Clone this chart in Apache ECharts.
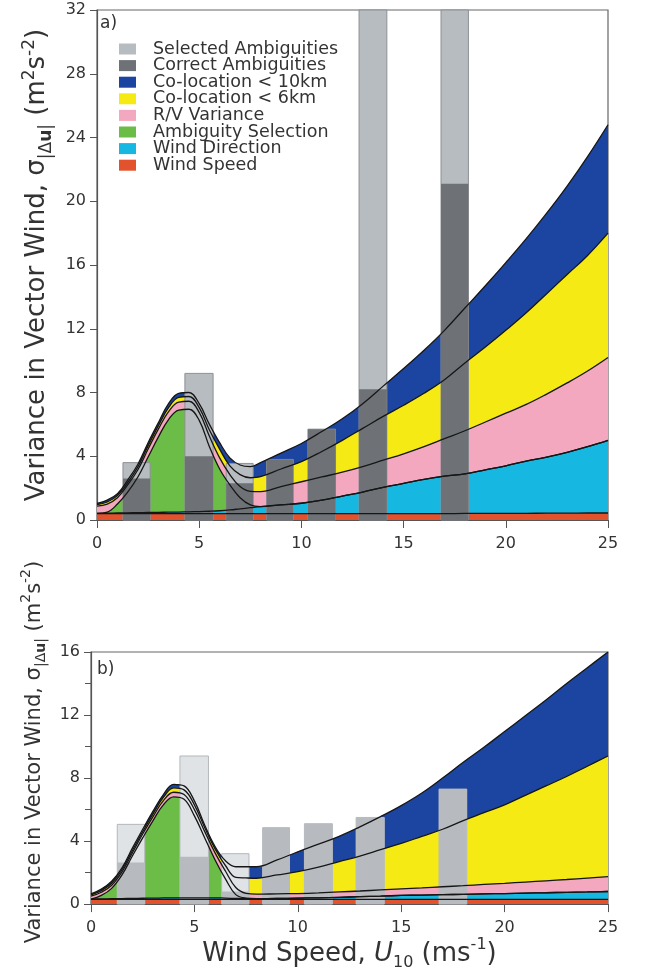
<!DOCTYPE html>
<html>
<head>
<meta charset="utf-8">
<script src="https://cdn.jsdelivr.net/npm/echarts@6/dist/echarts.min.js"></script>
<style>
  html, body { margin: 0; padding: 0; background: #fff; }
  #chart { width: 650px; height: 972px; }
</style>
</head>
<body>
<div id="chart"></div>
<script>
    // wind speed samples (m/s), shared by both panels
    var xs = [0, 0.5, 1, 1.5, 2, 2.5, 3, 3.5, 4, 4.5, 5, 5.5, 6, 6.5, 7, 7.5, 8,
              9, 10, 11, 12, 13, 14, 15, 16, 17, 18, 19, 20, 21, 22, 23, 24, 25];

    // panel a) cumulative tops of each variance term
    var windSpeedA = [0.4,0.4,0.4,0.4,0.4,0.4,0.4,0.4,0.4,0.4,0.4,0.4,0.4,0.4,0.4,0.4,0.4,
                      0.4,0.4,0.4,0.4,0.4,0.4,0.4,0.4,0.4,0.41,0.41,0.42,0.42,0.43,0.43,0.44,0.44];
    var windDirA   = [0.42,0.43,0.44,0.45,0.46,0.47,0.48,0.49,0.5,0.51,0.53,0.55,0.58,0.63,0.7,0.77,0.84,
                      0.95,1.05,1.25,1.5,1.75,2.05,2.3,2.55,2.75,2.9,3.15,3.4,3.7,3.95,4.25,4.6,5.0];
    var ambigA     = [0.42,0.5,1.0,1.75,2.7,3.95,5.2,6.3,6.9,6.95,6.25,4.6,3.2,2.2,1.4,0.95,0.84,
                      0.95,1.05,1.25,1.5,1.75,2.05,2.3,2.55,2.75,2.9,3.15,3.4,3.7,3.95,4.25,4.6,5.0];
    var rvA        = [0.87,1.0,1.4,2.2,3.15,4.45,5.7,6.8,7.4,7.45,6.75,5.25,3.9,2.85,2.1,1.8,1.78,
                      2.1,2.4,2.7,3.0,3.35,3.75,4.15,4.6,5.1,5.6,6.15,6.7,7.25,7.9,8.6,9.35,10.2];
    var coloc6A    = [0.97,1.13,1.53,2.35,3.33,4.65,5.9,7.05,7.7,7.75,7.05,5.65,4.45,3.4,2.85,2.65,2.72,
                      3.2,3.66,4.3,5.0,5.75,6.5,7.2,7.95,8.8,9.85,10.85,11.9,13.0,14.2,15.4,16.6,18.0];
    var coloc10A   = [1.05,1.25,1.65,2.5,3.5,4.85,6.1,7.3,7.95,8.0,7.3,6.0,4.85,3.9,3.45,3.35,3.6,
                      4.2,4.8,5.55,6.35,7.3,8.4,9.5,10.65,11.9,13.3,14.7,16.15,17.65,19.25,20.95,22.8,24.8];

    // panel b)
    var windSpeedB = [0.3,0.3,0.3,0.3,0.3,0.3,0.3,0.3,0.3,0.3,0.3,0.3,0.3,0.3,0.3,0.3,0.3,
                      0.3,0.3,0.3,0.3,0.3,0.3,0.3,0.3,0.3,0.3,0.3,0.3,0.3,0.3,0.3,0.3,0.3];
    var windDirB   = [0.32,0.33,0.34,0.35,0.36,0.37,0.38,0.39,0.4,0.4,0.4,0.4,0.4,0.38,0.36,0.35,0.35,
                      0.36,0.38,0.4,0.43,0.47,0.51,0.55,0.57,0.6,0.62,0.65,0.67,0.7,0.72,0.75,0.77,0.8];
    var ambigB     = [0.32,0.55,1.0,1.85,3.05,4.2,5.3,6.3,6.8,6.65,5.6,4.2,2.8,1.6,0.6,0.38,0.35,
                      0.36,0.38,0.4,0.43,0.47,0.51,0.55,0.57,0.6,0.62,0.65,0.67,0.7,0.72,0.75,0.77,0.8];
    var rvB        = [0.5,0.75,1.2,2.05,3.25,4.45,5.55,6.57,7.1,6.95,6.0,4.6,3.25,2.1,1.05,0.68,0.63,
                      0.65,0.67,0.71,0.77,0.83,0.9,0.97,1.03,1.1,1.17,1.25,1.32,1.4,1.48,1.56,1.65,1.74];
    var coloc6B    = [0.58,0.85,1.32,2.18,3.4,4.6,5.72,6.77,7.38,7.25,6.3,4.85,3.5,2.45,1.7,1.66,1.64,
                      1.85,2.06,2.35,2.7,3.05,3.45,3.85,4.3,4.75,5.3,5.8,6.3,6.9,7.5,8.1,8.75,9.4];
    var coloc10B   = [0.65,0.95,1.45,2.3,3.55,4.75,5.9,6.95,7.6,7.5,6.55,5.0,3.65,2.75,2.37,2.37,2.37,
                      2.8,3.32,3.8,4.3,4.9,5.55,6.25,7.05,8.0,9.0,9.95,10.95,11.95,12.95,14.0,15.0,16.0];

    // histogram bins (m/s) and heights
    var binLo = [1.27, 4.3, 6.32, 8.3, 10.32, 12.82, 16.83];
    var binHi = [2.6, 5.68, 7.64, 9.6, 11.67, 14.18, 18.17];
    var selectedA = [3.6, 9.2, 3.55, 3.8, 5.7, 60, 45];
    var correctA  = [2.6, 4.0, 2.3, 3.8, 5.7, 8.2, 21.1];
    var selectedB = [5.06, 9.4, 3.2, 4.85, 5.1, 5.5, 7.3];
    var correctB  = [2.64, 3.0, 0.8, 4.85, 5.1, 5.5, 7.3];

    var yTicksA = [0, 4, 8, 12, 16, 20, 24, 28, 32];
    var yTicksB = [0, 4, 8, 12, 16];
    var xTicks = [0, 5, 10, 15, 20, 25];

    var FONT = 'DejaVu Sans';
    var TXT = '#333';
    var C = {
        sel: '#b7bcc1', selB: '#dfe3e6', cor: '#6e7276', corB: '#b7bbbf',
        blue: '#1b45a0', yellow: '#f6ea14', pink: '#f4a8c0',
        green: '#6cbd48', cyan: '#16b8e2', red: '#e2522c'
    };

    function zip(ys) {
        return xs.map(function (x, i) { return [x, ys[i]]; });
    }

    function area(name, ys, color, g) {
        return {
            name: name, type: 'line', xAxisIndex: g, yAxisIndex: g,
            data: zip(ys), smooth: 0.4, symbol: 'none', silent: true,
            lineStyle: { width: 0 }, itemStyle: { color: color },
            areaStyle: { color: color, opacity: 1 }, z: 2
        };
    }

    function edge(ys, g) {
        return {
            type: 'line', xAxisIndex: g, yAxisIndex: g,
            data: zip(ys), smooth: 0.4, symbol: 'none', silent: true,
            lineStyle: { color: '#161616', width: 1.3 }, z: 6
        };
    }

    function bars(name, vals, color, border, g, z) {
        return {
            name: name, type: 'custom', xAxisIndex: g, yAxisIndex: g, z: z, silent: true,
            itemStyle: { color: color },
            data: binLo.map(function (lo, i) { return [lo, binHi[i], vals[i]]; }),
            encode: { x: [0, 1], y: 2 },
            renderItem: function (params, api) {
                var p0 = api.coord([api.value(0), 0]);
                var p1 = api.coord([api.value(1), api.value(2)]);
                var cs = params.coordSys;
                var shape = echarts.graphic.clipRectByRect(
                    { x: p0[0], y: p1[1], width: p1[0] - p0[0], height: p0[1] - p1[1] },
                    { x: cs.x, y: cs.y, width: cs.width, height: cs.height });
                if (!shape) return;
                return {
                    type: 'rect', shape: shape,
                    style: { fill: color, stroke: border || null, lineWidth: border ? 1 : 0 }
                };
            }
        };
    }

    var yName = '{t|Variance in Vector Wind, σ}{s||Δ}{b|u}{s||}{t| (m}{p|2}{t|s}{p|-2}{t|)}';
    function nameRich(size, sub) {
        return {
            t: { fontFamily: FONT, fontSize: size, lineHeight: size + 8, color: TXT },
            s: { fontFamily: FONT, fontSize: sub, lineHeight: sub, verticalAlign: 'bottom', color: TXT },
            b: { fontFamily: FONT, fontSize: sub, lineHeight: sub, fontWeight: 'bold', verticalAlign: 'bottom', color: TXT },
            p: { fontFamily: FONT, fontSize: sub, lineHeight: sub, verticalAlign: 'top', color: TXT },
            i: { fontFamily: FONT, fontSize: size, lineHeight: size + 8, fontStyle: 'italic', color: TXT }
        };
    }

    function xAxis(g, name) {
        return {
            type: 'value', gridIndex: g, min: 0, max: 25, interval: 5,
            axisLine: { lineStyle: { color: '#555', width: 1.2 } },
            axisTick: { inside: false, length: 8, lineStyle: { color: '#555' } },
            axisLabel: { fontFamily: FONT, fontSize: 16, color: TXT, margin: 16,
                         formatter: function (v) { return xTicks.indexOf(v) >= 0 ? v : ''; } },
            splitLine: { show: false },
            name: name || '', nameLocation: 'middle', nameGap: 29,
            nameTextStyle: { rich: nameRich(26, 16) }
        };
    }

    function yAxis(g, max, ticks, gap, pad, size, minor) {
        return {
            type: 'value', gridIndex: g, min: 0, max: max, interval: 4,
            axisLine: { show: true, lineStyle: { color: '#555', width: 1.2 } },
            axisTick: { inside: false, length: 7, lineStyle: { color: '#555' } },
            minorTick: { show: minor, splitNumber: 2, length: 6, lineStyle: { color: '#555' } },
            axisLabel: { fontFamily: FONT, fontSize: 16, color: TXT, margin: 11,
                         formatter: function (v) { return ticks.indexOf(v) >= 0 ? v : ''; } },
            splitLine: { show: false },
            name: yName, nameLocation: 'middle', nameGap: gap,
            nameTextStyle: { padding: pad, rich: nameRich(size, Math.round(size * 0.66)) }
        };
    }

    var chart = echarts.init(document.getElementById('chart'));

    var series = [
        // panel a
        area('Co-location < 10km', coloc10A, C.blue, 0),
        area('Co-location < 6km', coloc6A, C.yellow, 0),
        area('R/V Variance', rvA, C.pink, 0),
        area('Ambiguity Selection', ambigA, C.green, 0),
        area('Wind Direction', windDirA, C.cyan, 0),
        area('Wind Speed', windSpeedA, C.red, 0),
        bars('Selected Ambiguities', selectedA, C.sel, '#8c9095', 0, 3),
        bars('Correct Ambiguities', correctA, C.cor, null, 0, 4),
        edge(coloc10A, 0), edge(coloc6A, 0), edge(rvA, 0),
        edge(ambigA, 0), edge(windDirA, 0), edge(windSpeedA, 0),
        // panel b
        area('Co-location < 10km', coloc10B, C.blue, 1),
        area('Co-location < 6km', coloc6B, C.yellow, 1),
        area('R/V Variance', rvB, C.pink, 1),
        area('Ambiguity Selection', ambigB, C.green, 1),
        area('Wind Direction', windDirB, C.cyan, 1),
        area('Wind Speed', windSpeedB, C.red, 1),
        bars('Selected Ambiguities', selectedB, C.selB, '#b4b8bc', 1, 3),
        bars('Correct Ambiguities', correctB, C.corB, null, 1, 4),
        edge(coloc10B, 1), edge(coloc6B, 1), edge(rvB, 1),
        edge(ambigB, 1), edge(windDirB, 1), edge(windSpeedB, 1)
    ];

    var option = {
        animation: false,
        backgroundColor: '#fff',
        grid: [
            { left: 97, top: 10, width: 511, height: 510, show: true, borderColor: '#666', borderWidth: 1.2, backgroundColor: '#fff' },
            { left: 91, top: 652, width: 517, height: 254, show: true, borderColor: '#666', borderWidth: 1.2, backgroundColor: '#fff' }
        ],
        xAxis: [
            xAxis(0),
            xAxis(1, '{t|Wind Speed, }{i|U}{s|10}{t| (ms}{p|-1}{t|)}')
        ],
        yAxis: [
            yAxis(0, 32, yTicksA, 31, [0, 0, 0, 0], 26, false),
            yAxis(1, 16, yTicksB, 30, [0, 0, 0, 52], 21, true)
        ],
        legend: {
            left: 114, top: 35, orient: 'vertical', icon: 'rect',
            itemWidth: 17, itemHeight: 11, itemGap: -1.4,
            textStyle: { fontFamily: FONT, fontSize: 17.5, lineHeight: 16, color: TXT, padding: [0, 0, 0, 12] },
            data: ['Selected Ambiguities', 'Correct Ambiguities', 'Co-location < 10km', 'Co-location < 6km',
                   'R/V Variance', 'Ambiguity Selection', 'Wind Direction', 'Wind Speed'],
            selectedMode: false
        },
        graphic: [
            { type: 'text', left: 100, top: 15, z: 10, style: { text: 'a)', font: '17px "DejaVu Sans"', fill: TXT } },
            { type: 'text', left: 97, top: 661, z: 10, style: { text: 'b)', font: '17px "DejaVu Sans"', fill: TXT } }
        ],
        series: series
    };

    chart.setOption(option);
</script>
</body>
</html>
